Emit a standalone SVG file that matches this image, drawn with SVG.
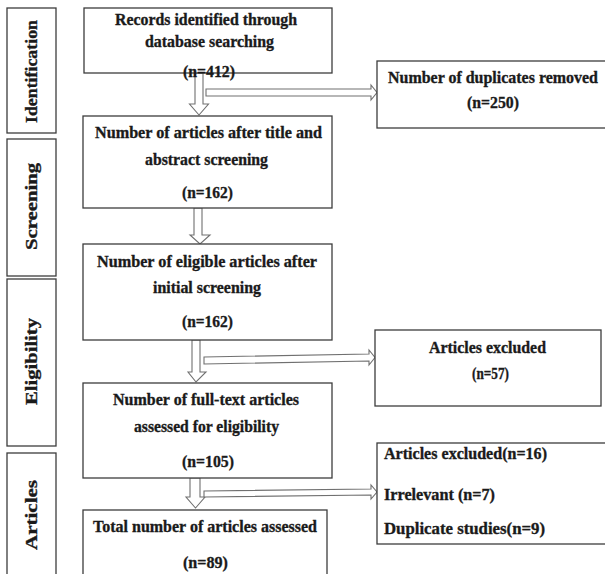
<svg xmlns="http://www.w3.org/2000/svg" width="605" height="574" viewBox="0 0 605 574">
<style>
.bx{fill:#fff;stroke:#3c3c3c;stroke-width:1.3}
.ar{fill:#fff;stroke:#707070;stroke-width:1.1;stroke-linejoin:miter}
text{font-family:"Liberation Serif","Times New Roman",serif;font-weight:bold;font-size:17.5px;fill:#1a1a1a;stroke:#1a1a1a;stroke-width:0.35}
.side{font-size:17px}
</style>
<rect width="605" height="574" fill="#fff"/>
<g id="stage-identification"><rect class="bx" x="7" y="8" width="49" height="125"/><text class="side" transform="translate(37,123) rotate(-90)" textLength="103" lengthAdjust="spacingAndGlyphs">Identification</text></g>
<g id="stage-screening"><rect class="bx" x="7" y="139" width="49" height="137"/><text class="side" transform="translate(37,250) rotate(-90)" textLength="87" lengthAdjust="spacingAndGlyphs">Screening</text></g>
<g id="stage-eligibility"><rect class="bx" x="7" y="279" width="49" height="167"/><text class="side" transform="translate(37,405) rotate(-90)" textLength="87" lengthAdjust="spacingAndGlyphs">Eligibility</text></g>
<g id="stage-articles"><rect class="bx" x="7" y="453" width="49" height="130"/><text class="side" transform="translate(37,550) rotate(-90)" textLength="70" lengthAdjust="spacingAndGlyphs">Articles</text></g>
<g id="connectors">
<polygon class="ar" points="195,73 203,73 203,104 208.5,104 199,115 189.5,104 195,104"/>
<polygon class="ar" points="206,89 371,89 371,85 377,92.5 371,100 371,96 206,96"/>
<polygon class="ar" points="194,208 202,208 202,235 210,235 200,244 190,235 194,235"/>
<polygon class="ar" points="192,340 200,340 200,372 206,372 196,382 188,372 192,372"/>
<polygon class="ar" points="204,357 369,354 369,350 375,357.5 369,365 369,361 204,364"/>
<polygon class="ar" points="190,478 200,478 200,497 205,497 195.5,508 186,497 190,497"/>
<polygon class="ar" points="204,491 371,489 371,485 377,492 371,499 371,495 204,497"/>
</g>
<g id="box-records"><rect class="bx" x="84" y="8" width="248" height="65"/>
<text x="115" y="25" textLength="182" lengthAdjust="spacingAndGlyphs">Records identified  through</text>
<text x="145" y="47" textLength="129" lengthAdjust="spacingAndGlyphs">database searching</text>
<text x="183" y="77" textLength="52" lengthAdjust="spacingAndGlyphs">(n=412)</text></g>
<g id="box-duplicates"><rect class="bx" x="377" y="61" width="235" height="67"/>
<text x="388" y="83" textLength="210" lengthAdjust="spacingAndGlyphs">Number  of duplicates  removed</text>
<text x="467" y="108" textLength="52" lengthAdjust="spacingAndGlyphs">(n=250)</text></g>
<g id="box-screened"><rect class="bx" x="83" y="116" width="249" height="92"/>
<text x="95" y="138" textLength="227" lengthAdjust="spacingAndGlyphs">Number  of articles after title and</text>
<text x="145" y="165" textLength="123" lengthAdjust="spacingAndGlyphs">abstract screening</text>
<text x="182" y="198" textLength="51" lengthAdjust="spacingAndGlyphs">(n=162)</text></g>
<g id="box-eligible"><rect class="bx" x="83" y="244" width="249" height="96"/>
<text x="97" y="267" textLength="220" lengthAdjust="spacingAndGlyphs">Number  of eligible  articles after</text>
<text x="153" y="293" textLength="108" lengthAdjust="spacingAndGlyphs">initial  screening</text>
<text x="182" y="327" textLength="51" lengthAdjust="spacingAndGlyphs">(n=162)</text></g>
<g id="box-excluded57"><rect class="bx" x="375" y="330" width="226" height="76"/>
<text x="429" y="353" textLength="117" lengthAdjust="spacingAndGlyphs">Articles  excluded</text>
<text x="472" y="379" textLength="37" lengthAdjust="spacingAndGlyphs">(n=57)</text></g>
<g id="box-fulltext"><rect class="bx" x="83" y="383" width="249" height="95"/>
<text x="113" y="405" textLength="186" lengthAdjust="spacingAndGlyphs">Number  of full-text  articles</text>
<text x="134" y="432" textLength="145" lengthAdjust="spacingAndGlyphs">assessed for eligibility</text>
<text x="182" y="467" textLength="52" lengthAdjust="spacingAndGlyphs">(n=105)</text></g>
<g id="box-excluded16"><rect class="bx" x="377" y="443" width="235" height="101"/>
<text x="384" y="459" textLength="163" lengthAdjust="spacingAndGlyphs">Articles  excluded(n=16)</text>
<text x="384" y="500" textLength="111" lengthAdjust="spacingAndGlyphs">Irrelevant  (n=7)</text>
<text x="384" y="534" textLength="161" lengthAdjust="spacingAndGlyphs">Duplicate studies(n=9)</text></g>
<g id="box-total"><rect class="bx" x="83" y="510" width="244" height="75"/>
<text x="93" y="532" textLength="224" lengthAdjust="spacingAndGlyphs">Total number  of articles assessed</text>
<text x="183" y="568" textLength="45" lengthAdjust="spacingAndGlyphs">(n=89)</text></g>
</svg>
